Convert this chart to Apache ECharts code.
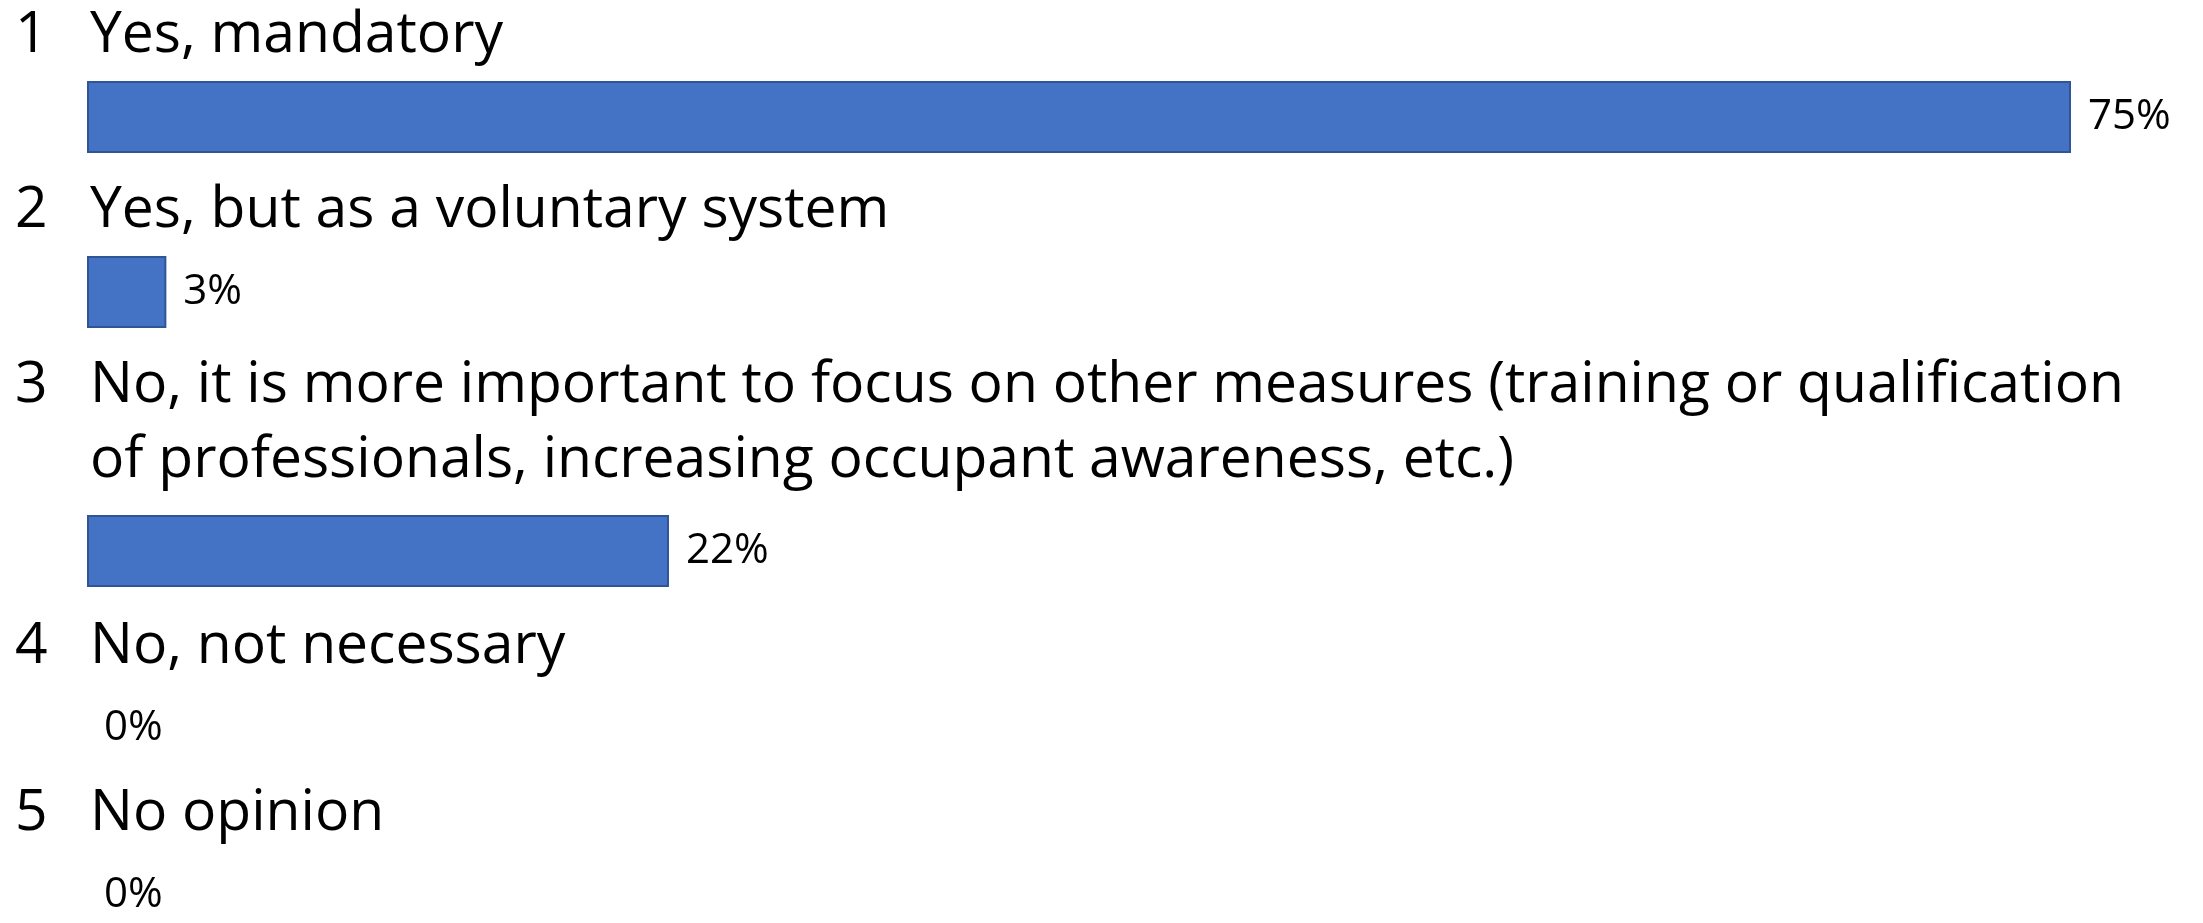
<!DOCTYPE html>
<html>
<head>
<meta charset="utf-8">
<title>Survey answers</title>
<script src="https://cdn.jsdelivr.net/npm/echarts@6/dist/echarts.min.js"></script>
<style>
  html, body { margin: 0; padding: 0; background: #fff; }
  #chart { width: 2203px; height: 923px; }
</style>
</head>
<body>
<div id="chart"></div>
<script>
// answers, in the order they are listed (a '\n' marks where the original text wraps)
const categories = [
  'Yes, mandatory',
  'Yes, but as a voluntary system',
  'No, it is more important to focus on other measures (training or qualification\nof professionals, increasing occupant awareness, etc.)',
  'No, not necessary',
  'No opinion'
]
// share of answers, percent
const shares = [75, 3, 22, 0, 0]

// layout: vertical centre of each bar and how far the answer text sits above it
const rowCenters = [117, 292, 551, 728, 903]
const titleLift = [44, 44, 53, 44, 44]
const barHeight = 72
const fontFamily = '"Open Sans", Lato, sans-serif'

const maxShare = Math.max(...shares)
const chart = echarts.init(document.getElementById('chart'), null, { renderer: 'canvas' })

const grid = []
const xAxis = []
const yAxis = []
const series = []

categories.forEach((cat, i) => {
  grid.push({
    left: 87,
    width: 1984,
    top: rowCenters[i] - barHeight / 2,
    height: barHeight
  })
  xAxis.push({
    gridIndex: i,
    type: 'value',
    min: 0,
    max: maxShare,
    show: false
  })
  yAxis.push({
    gridIndex: i,
    type: 'category',
    data: [cat],
    axisLine: { show: false },
    axisTick: { show: false },
    splitLine: { show: false },
    axisLabel: {
      show: true,
      align: 'left',
      verticalAlign: 'bottom',
      margin: 72,
      padding: [0, 0, titleLift[i], 0],
      formatter: (val) => {
        // number in front of the first line, later lines keep the text indent
        return val.split('\n').map((line, k) => {
          return '{n|' + (k === 0 ? (i + 1) : '') + '}{t|' + line + '}'
        }).join('\n')
      },
      rich: {
        n: { width: 75, fontSize: 57, lineHeight: 75, fontFamily, color: '#000' },
        t: { fontSize: 57, lineHeight: 75, fontFamily, color: '#000' }
      }
    }
  })
  series.push({
    type: 'bar',
    xAxisIndex: i,
    yAxisIndex: i,
    barWidth: '100%',
    data: [{
      value: shares[i],
      // an empty answer gets no outline at all
      itemStyle: shares[i] === 0 ? { borderWidth: 0 } : {}
    }],
    itemStyle: {
      color: '#4472C4',
      borderColor: '#2F5597',
      borderWidth: 2
    },
    label: {
      show: true,
      position: 'right',
      distance: 17,
      formatter: '{c}%',
      fontFamily,
      fontSize: 42,
      color: '#000'
    },
    silent: true,
    animation: false
  })
})

chart.setOption({
  backgroundColor: '#fff',
  animation: false,
  grid,
  xAxis,
  yAxis,
  series
})
</script>
</body>
</html>
